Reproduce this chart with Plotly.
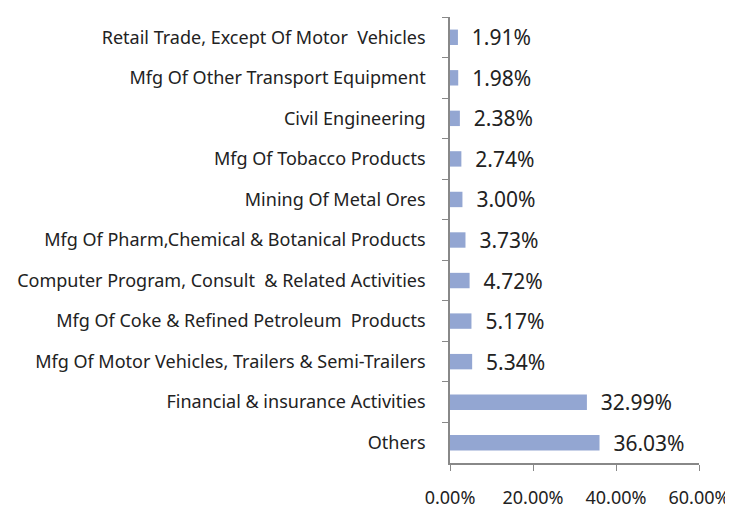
import plotly.graph_objects as go

categories = [
    "Retail Trade, Except Of Motor  Vehicles",
    "Mfg Of Other Transport Equipment",
    "Civil Engineering",
    "Mfg Of Tobacco Products",
    "Mining Of Metal Ores",
    "Mfg Of Pharm,Chemical & Botanical Products",
    "Computer Program, Consult  & Related Activities",
    "Mfg Of Coke & Refined Petroleum  Products",
    "Mfg Of Motor Vehicles, Trailers & Semi-Trailers",
    "Financial & insurance Activities",
    "Others",
]
values = [1.91, 1.98, 2.38, 2.74, 3.00, 3.73, 4.72, 5.17, 5.34, 32.99, 36.03]
x_ticks = [0, 20, 40, 60]
x_tick_labels = ["0.00%", "20.00%", "40.00%", "60.00%"]

FONT = "Noto Sans"

fig = go.Figure(go.Bar(
    y=categories,
    x=values,
    orientation="h",
    marker=dict(color="#93A6D2", line=dict(width=0)),
    text=["  " + f"{v:.2f}%" for v in values],
    textposition="outside",
    constraintext="none",
    textfont=dict(family=FONT, size=21, color="#222222"),
    cliponaxis=False,
))

# page body has an 8px default margin, so margins are offset to compensate
fig.update_layout(
    width=733, height=507,
    margin=dict(l=441.5, r=41.5, t=9, b=52),
    paper_bgcolor="white", plot_bgcolor="white",
    bargap=0.62,
    showlegend=False,
    font=dict(family=FONT, size=18, color="#222222"),
)
fig.update_xaxes(
    range=[0, 60], tickvals=x_ticks, ticktext=x_tick_labels,
    showgrid=False, zeroline=False, automargin=False,
    showline=True, linecolor="#888888", linewidth=1.5,
    ticks="outside", ticklen=6, tickcolor="#888888",
    ticklabelstandoff=12,
    tickfont=dict(family=FONT, size=18, color="#222222"),
)
fig.update_yaxes(
    autorange="reversed", automargin=False,
    showgrid=False, zeroline=False,
    showline=True, linecolor="#888888", linewidth=1.5,
    ticks="outside", ticklen=6, tickcolor="#888888",
    tickson="boundaries", ticklabelstandoff=19,
    tickfont=dict(family=FONT, size=18, color="#222222"),
)

fig.write_html("out.html")
